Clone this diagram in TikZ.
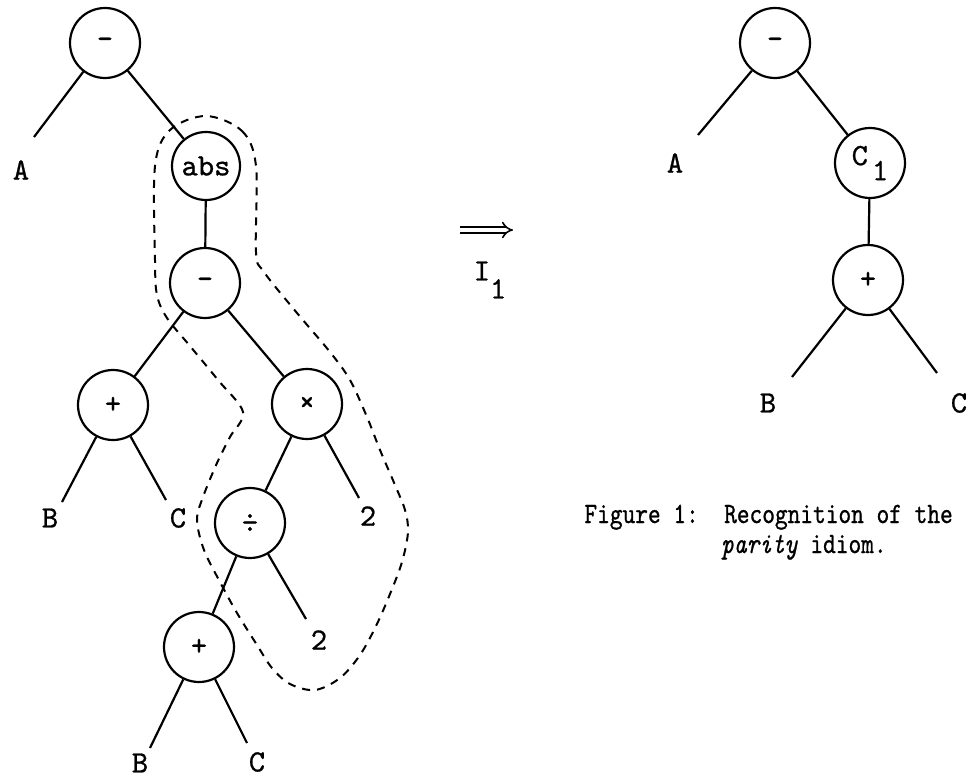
\documentclass[tikz,border=0pt]{standalone}
\usepackage{fontspec}
\usetikzlibrary{arrows.meta}
\newfontfamily\twfont{lmmono10-regular.otf}[ItalicFont=lmmono10-italic.otf,FakeBold=0.8]
\newfontfamily\twcapfont{lmmono10-regular.otf}[ItalicFont=lmmono10-italic.otf,FakeBold=0.8,FakeStretch=0.82]
\newcommand\diaglbl{\twfont\fontsize{31}{36}\selectfont}
\newcommand\capfont{\twcapfont\fontsize{29.5}{30}\selectfont}
\begin{document}
\begin{tikzpicture}[x=1pt,y=-1pt,
  op/.style={circle,draw,line width=2.2pt,minimum size=70pt,inner sep=0pt,font=\diaglbl},
  leaf/.style={inner sep=0pt,font=\diaglbl},
  caption/.style={inner sep=0pt,font=\capfont},
  edge/.style={line width=2.2pt},
  hull/.style={line width=2pt,dash pattern=on 8pt off 7pt}]
\useasboundingbox (0,0) rectangle (969,781);
% left tree
\node[op] (r) at (105,43) {-};
\node[op,minimum size=68pt] (abs) at (206,166) {abs};
\node[op] (m) at (205,283) {-};
\node[op] (p) at (113,405) {+};
\node[op] (x) at (307,404) {×};
\node[op] (d) at (250,523) {÷};
\node[op] (q) at (199,647) {+};
\node[leaf] (A) at (21,170) {A};
\node[leaf] (B1) at (50,518) {B};
\node[leaf] (C1) at (178,518) {C};
\node[leaf] (t1) at (368,516) {2};
\node[leaf] (t2) at (319,640) {2};
\node[leaf] (B2) at (140,763) {B};
\node[leaf] (C2) at (257,762) {C};
\coordinate (eA) at (34,137);
\coordinate (eB1) at (62,502);
\coordinate (eC1) at (166,500);
\coordinate (et1) at (359,498);
\coordinate (et2) at (306,619);
\coordinate (eB2) at (150,748);
\coordinate (eC2) at (247,743);
\draw[edge] (r) -- (eA);
\draw[edge] (r) -- (abs);
\draw[edge] (abs) -- (m);
\draw[edge] (m) -- (p);
\draw[edge] (m) -- (x);
\draw[edge] (p) -- (eB1);
\draw[edge] (p) -- (eC1);
\draw[edge] (x) -- (d);
\draw[edge] (x) -- (et1);
\draw[edge] (d) -- (q);
\draw[edge] (d) -- (et2);
\draw[edge] (q) -- (eB2);
\draw[edge] (q) -- (eC2);
% dashed hull
\draw[hull] plot[smooth cycle, tension=0.55] coordinates {
 (206,116) (242,131) (256,166) (256,252) (264,272) (297,313) (330,352)
 (350,380) (367,417) (380,450) (395,485) (405,510) (408,532) (402,562)
 (390,594) (376,626) (360,655) (340,678) (315,690) (290,684) (272,668)
 (257,645) (237,613) (220,582) (204,550) (197,520) (203,497) (217,463)
 (230,437) (243,412) (218,380) (190,346) (167,318) (157,295) (155,260)
 (155,166) (170,130)};
% transformation
\coordinate (ia) at (460,230);
\coordinate (ib) at (513,230);
\draw[line width=1.6pt,double distance=4pt,-{Implies}] (ia) -- (ib);
\node[leaf] (I) at (490,280) {I\raisebox{-18pt}{1}};
% right tree
\node[op] (R) at (775,43) {-};
\node[op] (K) at (870,163) {C\kern4pt\raisebox{-15pt}{1}};
\node[op] (S) at (868,280) {+};
\node[leaf] (RA) at (675,163) {A};
\node[leaf] (RB) at (768,403) {B};
\node[leaf] (RC) at (959,403) {C};
\coordinate (eRA) at (698,135);
\coordinate (eRB) at (792,377);
\coordinate (eRC) at (937,373);
\draw[edge] (R) -- (eRA);
\draw[edge] (R) -- (K);
\draw[edge] (K) -- (S);
\draw[edge] (S) -- (eRB);
\draw[edge] (S) -- (eRC);
% caption
\node[caption,anchor=base east] (cap1) at (953,523) {Figure 1:~~Recognition of the};
\node[caption,anchor=base west] (cap2) at (721,553) {\textit{parity} idiom.};
\end{tikzpicture}
\end{document}
